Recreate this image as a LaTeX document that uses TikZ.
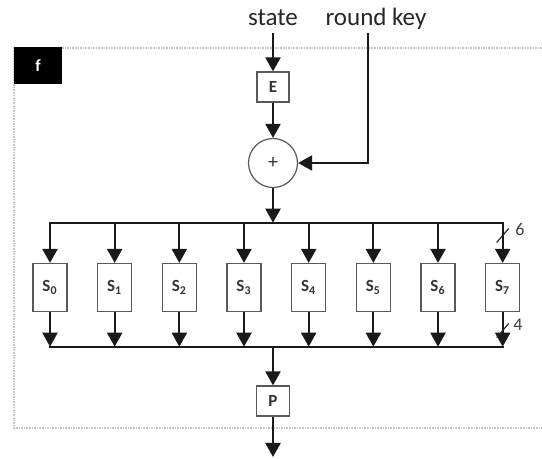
\documentclass[tikz,border=0pt]{standalone}
\usepackage{fontspec}
\setmainfont{Carlito}
\usetikzlibrary{arrows.meta}

\tikzset{
  bus/.style={line width=1.1pt,black!90},
  arr/.style={bus,-{Triangle[width=7.5pt,length=7pt]}},
  blk/.style={draw=black!65,line width=.6pt,fill=white,inner sep=0pt,
    text=black!80,font=\bfseries\fontsize{8.5}{9}\selectfont},
  sbox/.style={blk,minimum width=17pt,minimum height=24pt},
  bits/.style={black!75,font=\fontsize{9}{10}\selectfont},
  big/.style={black!85,anchor=base,font=\fontsize{12.5}{14}\selectfont}
}

\begin{document}
\begin{tikzpicture}[x=.5pt,y=-.5pt]
      \useasboundingbox (0,0) rectangle (542,459);

      % frame of the round function
      \draw[gray!45,line width=.6pt,dash pattern=on .8pt off .5pt]
        (542,48) -- (14,48) -- (14,428) -- (542,428);
      \node[fill=black,text=white,minimum width=24pt,minimum height=18.5pt,
        inner sep=0pt,font=\bfseries\fontsize{8.5}{9}\selectfont] (flab) at (38,65.5) {f};

      % inputs
      \node[big] (state) at (273,26) {state};
      \node[big] (rkey) at (376,26) {round key};
      \coordinate (kin) at (368,33);

      \node[blk,minimum width=16pt,minimum height=15pt] (E) at (273,87) {E};
      \node[circle,draw=black!65,line width=.6pt,fill=white,minimum size=24.5pt,
        inner sep=0pt,text=black!80,font=\fontsize{10}{11}\selectfont] (xor) at (273,163) {+};

      \draw[arr] (state.south) -- (E.north);
      \draw[arr] (E) -- (xor);
      \draw[arr] (kin) |- (xor);

      % split into the eight s-boxes
      \coordinate (split) at (273,222.7);
      \coordinate (join) at (273,346.7);
      \draw[arr] (xor) -- (split);

      \foreach \i in {0,...,7} {
        \node[sbox] (s\i) at ({50+64.67*\i},287.5) {S\textsubscript{\i}};
        \draw[arr] (s\i.north |- split) -- (s\i.north);
        \draw[arr] (s\i.south) -- (s\i.south |- join);
      }
      \draw[bus,line cap=rect] (s0.north |- split) -- (s7.north |- split);
      \draw[bus,line cap=rect] (s0.south |- join) -- (s7.south |- join);

      % bit widths
      \coordinate (w6) at (502.7,235.5);
      \coordinate (w4) at (502.7,330.5);
      \draw[black!85,line width=.6pt] (w6) +(-6,7) -- +(6,-7);
      \draw[black!85,line width=.6pt] (w4) +(-6,7) -- +(6,-7);
      \node[bits] (n6) at (520,229) {6};
      \node[bits] (n4) at (518,325) {4};

      % permutation and output
      \node[blk,minimum width=16.5pt,minimum height=15pt] (P) at (273,401) {P};
      \coordinate (out) at (273,457);
      \draw[arr] (join) -- (P);
      \draw[arr] (P) -- (out);
    \end{tikzpicture}
\end{document}
